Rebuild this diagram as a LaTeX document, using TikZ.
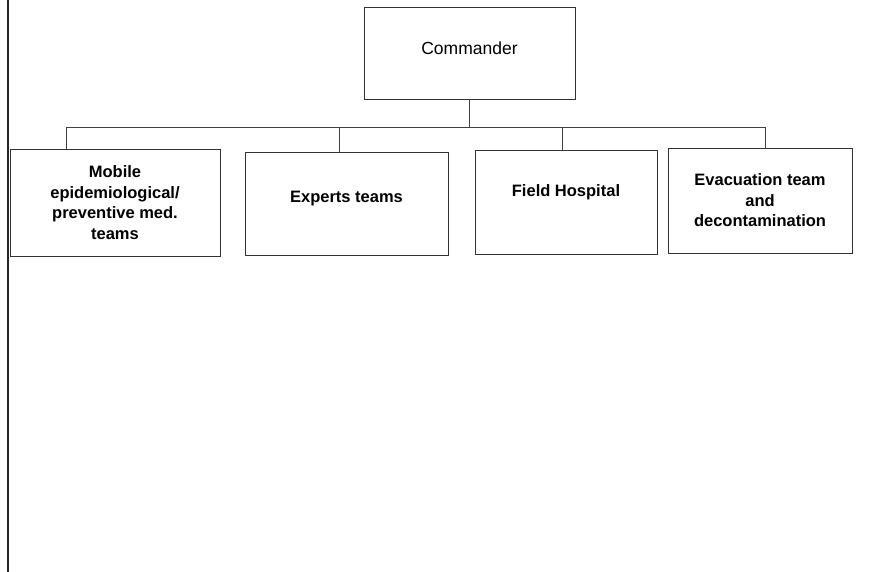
\documentclass[tikz,border=0pt]{standalone}
\usepackage{fontspec}
\setmainfont{Liberation Sans}

\begin{document}
\begin{tikzpicture}[
  x=1pt,y=-1pt,
  unit/.style={draw=black!80,line width=0.9pt,rectangle,align=center,inner sep=2pt,
    font=\fontsize{16.5}{20.5}\selectfont\bfseries},
  head/.style={unit,font=\fontsize{17.5}{21}\selectfont},
  link/.style={draw=black!75,line width=0.8pt}
]
  \useasboundingbox (0,0) rectangle (879,572);
  \draw[line width=1.6pt,black!85] (8,0) -- (8,572);

  \node[head,minimum width=211pt,minimum height=92pt,text depth=10pt] (cmd) at (469.5,53) {Commander};

  \node[unit,minimum width=210pt,minimum height=107pt] (mob) at (115,202.5)
    {Mobile\\epidemiological/\\preventive med.\\teams};
  \node[unit,minimum width=203pt,minimum height=103pt,text depth=14pt] (exp) at (346.5,203.5)
    {Experts teams};
  \node[unit,minimum width=182pt,minimum height=104pt,text depth=22pt] (hosp) at (566,202)
    {Field Hospital};
  \node[unit,minimum width=184pt,minimum height=105pt] (evac) at (760,200.5)
    {Evacuation team\\and\\decontamination};

  % bus line
  \coordinate (b1) at (66,127);
  \coordinate (b2) at (339,127);
  \coordinate (b3) at (562,127);
  \coordinate (b4) at (765,127);
  \draw[link] (b1 |- mob.north) -- (b1) -- (b4) -- (b4 |- evac.north);
  \draw[link] (cmd.south) -- (cmd.south |- b1);
  \draw[link] (b2) -- (b2 |- exp.north);
  \draw[link] (b3) -- (b3 |- hosp.north);
\end{tikzpicture}
\end{document}
